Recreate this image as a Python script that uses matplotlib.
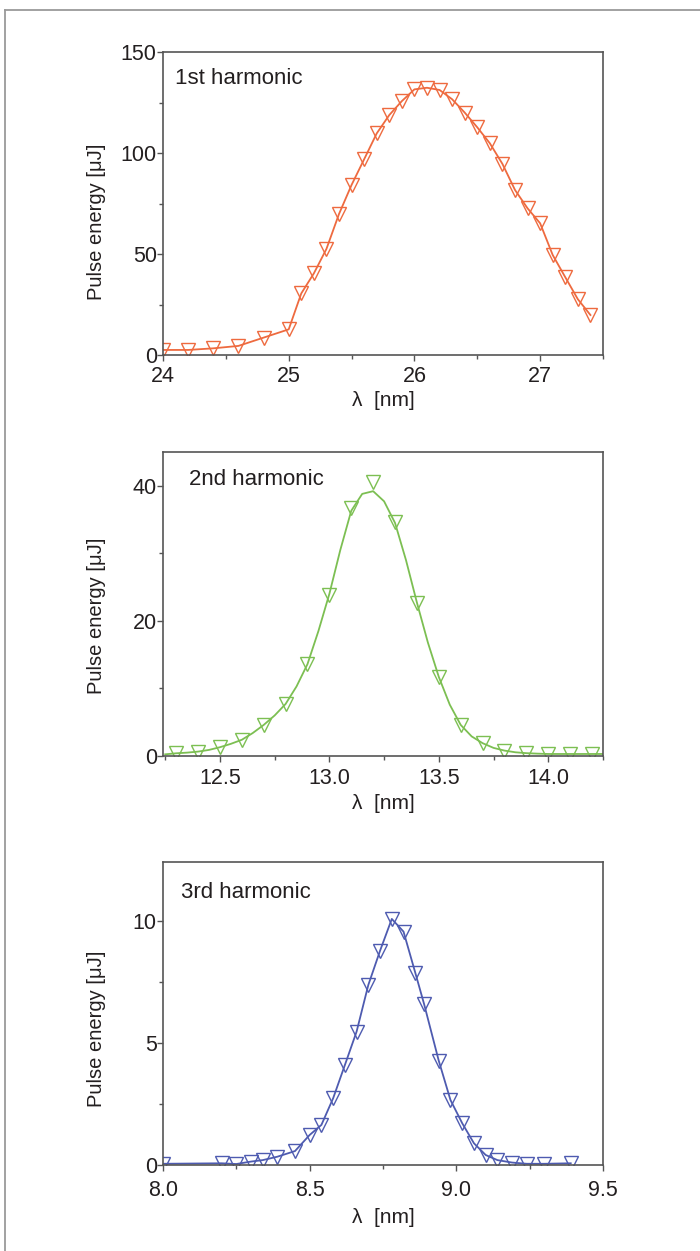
import matplotlib
matplotlib.use("Agg")
import matplotlib.pyplot as plt
from matplotlib.ticker import MultipleLocator
from matplotlib.lines import Line2D

plt.rcParams['font.family'] = ['Liberation Sans', 'DejaVu Sans']

# 1st harmonic (measured points)
x1 = [24.0, 24.2, 24.4, 24.6, 24.8, 25.0, 25.1, 25.2, 25.3, 25.4, 25.5, 25.6, 25.7, 25.8, 25.9,
      26.0, 26.1, 26.2, 26.3, 26.4, 26.5, 26.6, 26.7, 26.8, 26.9, 27.0, 27.1, 27.2, 27.3, 27.4]
y1 = [2.5, 2.5, 3.3, 4.5, 8.6, 12.7, 30.5, 40.4, 52.5, 69.8, 84.2, 96.9, 109.7, 118.8, 125.7,
      131.5, 132.3, 131.2, 126.6, 120.0, 112.7, 104.8, 94.6, 81.7, 72.6, 65.2, 49.5, 38.5, 27.6, 19.8]

x2 = [12.3, 12.4, 12.5, 12.6, 12.7, 12.8, 12.9, 13.0, 13.1, 13.2,
      13.3, 13.4, 13.5, 13.6, 13.7, 13.8, 13.9, 14.0, 14.1, 14.2]
y2 = [0.4, 0.65, 1.3, 2.4, 4.6, 7.7, 13.6, 23.9, 36.7, 40.6,
      34.7, 22.7, 11.7, 4.6, 1.9, 0.8, 0.4, 0.3, 0.3, 0.3]
fit2_x = [12.25, 12.30, 12.35, 12.40, 12.45, 12.50, 12.55, 12.60, 12.65, 12.70, 12.75,
          12.80, 12.85, 12.90, 12.95, 13.00, 13.05, 13.10, 13.15, 13.20, 13.25,
          13.30, 13.35, 13.40, 13.45, 13.50, 13.55, 13.60, 13.65, 13.70, 13.75,
          13.80, 13.85, 13.90, 13.95, 14.00, 14.05, 14.10, 14.15, 14.20, 14.25]
fit2_y = [0.25, 0.4, 0.5, 0.65, 0.9, 1.3, 1.8, 2.4, 3.4, 4.6, 6.0,
          7.7, 10.3, 13.6, 18.5, 24.0, 30.5, 36.3, 38.8, 39.2, 37.7,
          34.5, 29.0, 22.7, 16.8, 11.7, 7.6, 4.6, 2.9, 1.9, 1.2,
          0.8, 0.55, 0.42, 0.35, 0.3, 0.3, 0.3, 0.3, 0.3, 0.3]

# 3rd harmonic (measured points)
x3 = [8.00, 8.20, 8.25, 8.30, 8.34, 8.39, 8.45, 8.50, 8.54, 8.58, 8.62, 8.66, 8.70, 8.74,
      8.78, 8.82, 8.86, 8.89, 8.94, 8.98, 9.02, 9.06, 9.10, 9.14, 9.19, 9.24, 9.30, 9.39]
y3 = [0.05, 0.07, 0.04, 0.14, 0.20, 0.34, 0.57, 1.23, 1.64, 2.73, 4.09, 5.46, 7.37, 8.77,
      10.07, 9.55, 7.87, 6.59, 4.27, 2.66, 1.71, 0.89, 0.41, 0.20, 0.10, 0.05, 0.05, 0.07]

c1 = '#ee6a3f'
c2 = '#7cbf52'
c3 = '#4e5bb0'
txt = '#231f20'

fig = plt.figure(figsize=(7, 12.51), dpi=100)

# outer frame (only left and top edges visible)
fig.add_artist(Line2D([5/700, 5/700], [0, 1 - 10/1251], transform=fig.transFigure,
                      color='#9a9a9a', lw=1.3))
fig.add_artist(Line2D([5/700, 1], [1 - 10/1251, 1 - 10/1251], transform=fig.transFigure,
                      color='#9a9a9a', lw=1.3))

ax1 = fig.add_axes([163/700, 1 - 355/1251, 440/700, 303/1251])
ax2 = fig.add_axes([163/700, 1 - 756/1251, 440/700, 304/1251])
ax3 = fig.add_axes([163/700, 1 - 1165/1251, 440/700, 303/1251])

mk = dict(marker='v', markersize=10, mfc='none', mew=1.0)

ax1.plot(x1, y1, color=c1, lw=1.3, **mk)
ax2.plot(fit2_x, fit2_y, color=c2, lw=1.3)
ax2.plot(x2, y2, ls='none', color=c2, **mk)
ax3.plot(x3, y3, color=c3, lw=1.3, **mk)

ax1.set_xlim(24, 27.5)
ax1.set_ylim(0, 150)
ax2.set_xlim(12.24, 14.25)
ax2.set_ylim(0, 45)
ax3.set_xlim(8.0, 9.5)
ax3.set_ylim(0, 12.4)

ax1.xaxis.set_major_locator(MultipleLocator(1))
ax1.xaxis.set_minor_locator(MultipleLocator(0.5))
ax1.yaxis.set_major_locator(MultipleLocator(50))
ax1.yaxis.set_minor_locator(MultipleLocator(25))
ax2.xaxis.set_major_locator(MultipleLocator(0.5))
ax2.xaxis.set_minor_locator(MultipleLocator(0.25))
ax2.yaxis.set_major_locator(MultipleLocator(20))
ax2.yaxis.set_minor_locator(MultipleLocator(10))
ax3.xaxis.set_major_locator(MultipleLocator(0.5))
ax3.xaxis.set_minor_locator(MultipleLocator(0.25))
ax3.yaxis.set_major_locator(MultipleLocator(5))
ax3.yaxis.set_minor_locator(MultipleLocator(2.5))
ax2.xaxis.set_major_formatter(plt.FormatStrFormatter('%.1f'))
ax3.xaxis.set_major_formatter(plt.FormatStrFormatter('%.1f'))

labels = ['1st harmonic', '2nd harmonic', '3rd harmonic']
lab_pos = [(0.027, 0.914), (0.059, 0.908), (0.042, 0.899)]
ylab_y = [0.44, 0.46, 0.45]
xpads = [4, 5, 7]
xlabpads = [3, 3, 5]
for ax, lab, pos, yy, xp, xl in zip([ax1, ax2, ax3], labels, lab_pos, ylab_y, xpads, xlabpads):
    for s in ax.spines.values():
        s.set_color('#555555')
        s.set_linewidth(1.2)
    ax.tick_params(which='both', direction='out', colors='#555555',
                   labelcolor=txt, labelsize=15.5, top=False, right=False)
    ax.tick_params(which='major', length=4, width=1)
    ax.tick_params(which='minor', length=3, width=1)
    ax.tick_params(axis='x', pad=xp)
    ax.tick_params(axis='y', pad=0.5)
    ax.set_xlabel('λ  [nm]', fontsize=15, color=txt, labelpad=xl)
    ax.set_ylabel('Pulse energy [μJ]', fontsize=14.5, color=txt)
    ax.yaxis.set_label_coords(-0.13, yy)
    ax.text(pos[0], pos[1], lab, transform=ax.transAxes, fontsize=16,
            color=txt, ha='left', va='center')

fig.savefig('out.png', dpi=100)
